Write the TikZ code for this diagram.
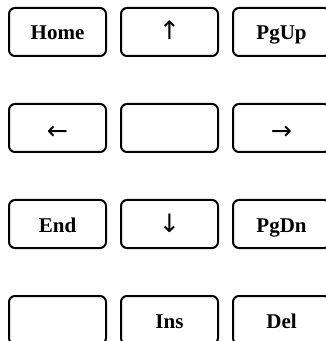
\documentclass[tikz,border=0pt]{standalone}
\usepackage{fontspec}
\setmainfont{Liberation Serif}
\newfontfamily\arrowfont{DejaVu Sans}
\begin{document}
\begin{tikzpicture}[x=0.75pt,y=-0.75pt,
  keycap/.style={draw=black, line width=1.5pt, rounded corners=4.5pt,
    minimum width=72.75pt, minimum height=36pt, inner sep=0pt,
    text height=12pt, text depth=0pt,
    font=\fontsize{15.75}{18}\selectfont\bfseries},
  arrowkey/.style={keycap, font=\fontsize{19}{20}\selectfont\arrowfont},
  sidekey/.style={arrowkey, text height=18pt}]
\useasboundingbox (0,0) rectangle (325,341);
% row 1
\node[keycap] (home) at (57.5,32) {Home};
\node[arrowkey] (up) at (169.5,32) {↑};
\node[keycap] (pgup) at (281.5,32) {PgUp};
% row 2
\node[sidekey] (left) at (57.5,128) {←};
\node[keycap] (mid) at (169.5,128) {};
\node[sidekey] (right) at (281.5,128) {→};
% row 3
\node[keycap] (end) at (57.5,224) {End};
\node[arrowkey] (down) at (169.5,224) {↓};
\node[keycap] (pgdn) at (281.5,224) {PgDn};
% row 4
\node[keycap] (blank) at (57.5,320) {};
\node[keycap] (ins) at (169.5,320) {Ins};
\node[keycap] (del) at (281.5,320) {Del};
\end{tikzpicture}
\end{document}
